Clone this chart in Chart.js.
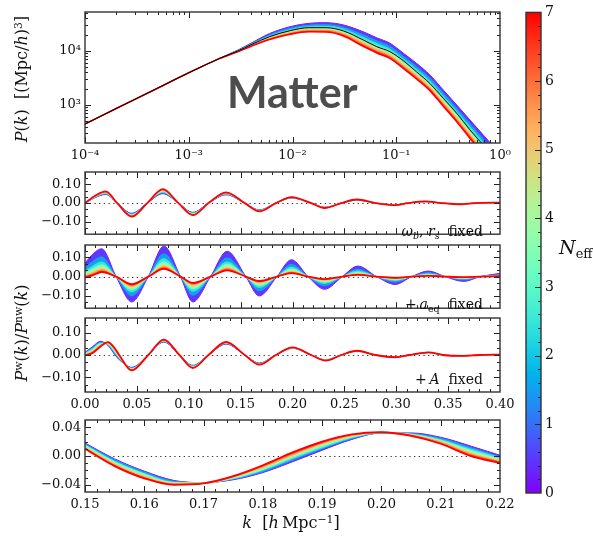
<!DOCTYPE html>
<html>
<head>
<meta charset="utf-8">
<script src="https://cdn.jsdelivr.net/npm/chart.js"></script>
<style>
    body { margin: 0; background: #fff; }
    #fig { position: relative; width: 593px; height: 537px; overflow: hidden; font-family: 'DejaVu Serif', serif; color: #111; }
    canvas { position: absolute; left: 0; }
    .lbl { position: absolute; white-space: nowrap; line-height: 1; z-index: 5; }
    .rot { transform: translate(-50%, -50%) rotate(-90deg); }
    .ctr { transform: translate(-50%, -50%); }
    sup { font-size: 68%; vertical-align: 0.55em; }
    sub { font-size: 68%; vertical-align: -0.3em; }
</style>
</head>
<body>
<div id="fig">
    <canvas id="powerChart" width="593" height="170" style="top:0px"></canvas>
    <canvas id="rsChart" width="593" height="86" style="top:160px"></canvas>
    <canvas id="aeqChart" width="593" height="87" style="top:233px"></canvas>
    <canvas id="ampChart" width="593" height="111" style="top:306px"></canvas>
    <canvas id="zoomChart" width="593" height="109" style="top:408px"></canvas>
    <canvas id="barChart" width="593" height="537" style="top:0px"></canvas>

    <div class="lbl rot" style="left:22px; top:79px; font-size:16px"><i>P</i>(<i>k</i>)&nbsp;&nbsp;[(Mpc/<i>h</i>)<sup>3</sup>]</div>
    <div class="lbl rot" style="left:22px; top:333px; font-size:16px"><i>P</i><sup>w</sup>(<i>k</i>)/<i>P</i><sup>nw</sup>(<i>k</i>)</div>
    <div class="lbl ctr" style="left:291px; top:523px; font-size:16px"><i>k</i>&nbsp;&nbsp;[<i>h</i>&thinsp;Mpc<sup>&minus;1</sup>]</div>
    <div class="lbl" style="left:559px; top:238px; font-size:19px"><i>N</i><sub style="font-style:normal">eff</sub></div>
    <div class="lbl" style="left:227px; top:70px; font-family:Lato, sans-serif; font-weight:700; font-size:43px; color:#4d4d4d">Matter</div>
    <div class="lbl" style="right:110px; top:224px; font-size:14px"><i>ω</i><sub><i>b</i></sub>, <i>r</i><sub><i>s</i></sub>&nbsp;&nbsp;fixed</div>
    <div class="lbl" style="right:110px; top:297px; font-size:14px">+&thinsp;<i>a</i><sub>eq</sub>&nbsp;&nbsp;fixed</div>
    <div class="lbl" style="right:110px; top:372px; font-size:14px">+&thinsp;<i>A</i>&nbsp;&nbsp;fixed</div>
</div>
<script>
    // N_eff values of the curves (colour scale 0..7)
    const neffValues = [0, 1, 2, 3, 4, 5, 6, 7];

    // Top panel: matter power spectrum P(k)
    const kPower = [1e-4, 2e-4, 5e-4, 0.001, 0.002, 0.003, 0.004, 0.006, 0.0095, 0.0145, 0.021, 0.031, 0.048, 0.065, 0.087, 0.117, 0.157, 0.211, 0.284, 0.383, 0.514, 0.7, 1.0];
    const powerNeff0 = [445, 860, 2050, 3950, 7400, 10500, 14000, 21000, 28200, 32600, 33400, 30300, 22700, 17500, 13900, 9100, 5900, 3600, 1900, 1000, 527, 270, 124];
    const powerNeff1 = [445, 860, 2050, 3950, 7380, 10350, 13640, 19950, 26400, 30300, 30900, 27600, 20000, 15400, 12200, 8000, 5160, 3150, 1660, 867, 451, 228, 103];
    const powerNeff2 = [445, 860, 2050, 3950, 7360, 10230, 13340, 19100, 25000, 28500, 28900, 25500, 18000, 13800, 10900, 7170, 4610, 2810, 1470, 768, 395, 197, 88];
    const powerNeff3 = [445, 860, 2050, 3950, 7340, 10120, 13090, 18400, 23800, 27000, 27200, 23800, 16400, 12500, 9940, 6510, 4170, 2540, 1330, 690, 351, 173, 77];
    const powerNeff4 = [445, 860, 2050, 3950, 7330, 10040, 12880, 17800, 22900, 25800, 25800, 22400, 15200, 11500, 9140, 5980, 3830, 2330, 1210, 629, 317, 155, 68];
    const powerNeff5 = [445, 860, 2050, 3950, 7320, 9950, 12670, 17300, 22000, 24700, 24600, 21200, 14100, 10650, 8460, 5540, 3530, 2150, 1120, 577, 289, 140, 61];
    const powerNeff6 = [445, 860, 2050, 3950, 7310, 9870, 12480, 16750, 21150, 23600, 23500, 20000, 13050, 9860, 7830, 5130, 3260, 1990, 1030, 530, 263, 126, 55];
    const powerNeff7 = [445, 860, 2050, 3950, 7300, 9800, 12300, 16300, 20400, 22700, 22500, 19000, 12200, 9200, 7300, 4780, 3030, 1850, 950, 490, 241, 115, 49];
    const powerFiducial = [445, 860, 2050, 3950, 7350, 10100, 13100, 18400, 23800, 27000, 27000, 23500, 16000, 12000, 9700, 6600, 4100, 2500, 1330, 700, 345, 175, 80];

    // Wiggle ratio, omega_b and r_s fixed
    const kRs = [0, 0.010, 0.020, 0.031, 0.045, 0.060, 0.075, 0.090, 0.104, 0.119, 0.136, 0.154, 0.168, 0.184, 0.199, 0.218, 0.231, 0.247, 0.262, 0.280, 0.299, 0.311, 0.328, 0.344, 0.361, 0.376, 0.400];
    const rsNeff0 = [0, 0.030, 0.046, 0, -0.054, 0, 0.050, 0, -0.049, 0, 0.044, 0, -0.036, 0, 0.027, 0, -0.022, 0, 0.016, 0, -0.009, 0, 0.008, 0, -0.005, 0, 0.003];
    const rsNeff1 = [0, 0.031, 0.048, 0, -0.057, 0, 0.053, 0, -0.051, 0, 0.046, 0, -0.037, 0, 0.028, 0, -0.023, 0, 0.016, 0, -0.009, 0, 0.008, 0, -0.005, 0, 0.003];
    const rsNeff2 = [0, 0.033, 0.051, 0, -0.059, 0, 0.057, 0, -0.053, 0, 0.048, 0, -0.038, 0, 0.028, 0, -0.023, 0, 0.017, 0, -0.010, 0, 0.008, 0, -0.005, 0, 0.003];
    const rsNeff3 = [0, 0.034, 0.053, 0, -0.062, 0, 0.060, 0, -0.055, 0, 0.050, 0, -0.039, 0, 0.029, 0, -0.024, 0, 0.017, 0, -0.010, 0, 0.008, 0, -0.005, 0, 0.003];
    const rsNeff4 = [0, 0.036, 0.055, 0, -0.064, 0, 0.064, 0, -0.058, 0, 0.051, 0, -0.041, 0, 0.030, 0, -0.024, 0, 0.018, 0, -0.010, 0, 0.009, 0, -0.006, 0, 0.003];
    const rsNeff5 = [0, 0.037, 0.057, 0, -0.067, 0, 0.067, 0, -0.060, 0, 0.053, 0, -0.042, 0, 0.031, 0, -0.025, 0, 0.018, 0, -0.010, 0, 0.009, 0, -0.006, 0, 0.003];
    const rsNeff6 = [0, 0.039, 0.060, 0, -0.069, 0, 0.071, 0, -0.062, 0, 0.055, 0, -0.043, 0, 0.031, 0, -0.025, 0, 0.019, 0, -0.011, 0, 0.009, 0, -0.006, 0, 0.003];
    const rsNeff7 = [0, 0.040, 0.062, 0, -0.072, 0, 0.074, 0, -0.064, 0, 0.057, 0, -0.044, 0, 0.032, 0, -0.026, 0, 0.019, 0, -0.011, 0, 0.009, 0, -0.006, 0, 0.003];

    // Wiggle ratio, + a_eq fixed
    const kAeq = [0, 0.008, 0.016, 0.030, 0.045, 0.061, 0.076, 0.092, 0.104, 0.121, 0.137, 0.155, 0.168, 0.185, 0.199, 0.215, 0.231, 0.248, 0.263, 0.281, 0.299, 0.315, 0.331, 0.347, 0.365, 0.381, 0.400];
    const aeqNeff0 = [0.070, 0.120, 0.145, 0, -0.132, 0, 0.159, 0, -0.132, 0, 0.132, 0, -0.101, 0, 0.088, 0, -0.066, 0, 0.055, 0, -0.041, 0, 0.029, 0, -0.025, 0, 0.017];
    const aeqNeff1 = [0.045, 0.082, 0.104, 0, -0.101, 0, 0.119, 0, -0.098, 0, 0.098, 0, -0.075, 0, 0.064, 0, -0.048, 0, 0.039, 0, -0.029, 0, 0.021, 0, -0.018, 0, 0.012];
    const aeqNeff2 = [0.029, 0.058, 0.078, 0, -0.081, 0, 0.094, 0, -0.078, 0, 0.078, 0, -0.058, 0, 0.050, 0, -0.037, 0, 0.030, 0, -0.022, 0, 0.015, 0, -0.013, 0, 0.009];
    const aeqNeff3 = [0.019, 0.043, 0.062, 0, -0.069, 0, 0.077, 0, -0.064, 0, 0.064, 0, -0.047, 0, 0.040, 0, -0.029, 0, 0.023, 0, -0.017, 0, 0.012, 0, -0.010, 0, 0.007];
    const aeqNeff4 = [0.012, 0.032, 0.049, 0, -0.059, 0, 0.065, 0, -0.054, 0, 0.054, 0, -0.039, 0, 0.033, 0, -0.024, 0, 0.019, 0, -0.013, 0, 0.009, 0, -0.008, 0, 0.005];
    const aeqNeff5 = [0.006, 0.023, 0.040, 0, -0.052, 0, 0.056, 0, -0.046, 0, 0.046, 0, -0.033, 0, 0.027, 0, -0.020, 0, 0.015, 0, -0.011, 0, 0.007, 0, -0.006, 0, 0.004];
    const aeqNeff6 = [0.000, 0.015, 0.031, 0, -0.046, 0, 0.047, 0, -0.039, 0, 0.039, 0, -0.028, 0, 0.022, 0, -0.016, 0, 0.012, 0, -0.008, 0, 0.006, 0, -0.004, 0, 0.003];
    const aeqNeff7 = [-0.004, 0.008, 0.024, 0, -0.040, 0, 0.040, 0, -0.033, 0, 0.033, 0, -0.023, 0, 0.018, 0, -0.013, 0, 0.009, 0, -0.006, 0, 0.004, 0, -0.003, 0, 0.002];

    // Wiggle ratio, + A fixed
    const kAmp = [0, 0.007, 0.015, 0.022, 0.029, 0.033, 0.045, 0.061, 0.076, 0.091, 0.104, 0.119, 0.136, 0.154, 0.168, 0.184, 0.200, 0.218, 0.232, 0.247, 0.262, 0.280, 0.299, 0.313, 0.331, 0.345, 0.365, 0.380, 0.400];
    const ampNeff0 = [0.012, 0.036, 0.061, 0.043, 0.000, -0.021, -0.055, 0, 0.058, 0, -0.046, 0, 0.049, 0, -0.036, 0, 0.030, 0, -0.022, 0, 0.017, 0, -0.009, 0, 0.011, 0, -0.004, 0, 0.002];
    const ampNeff1 = [0.010, 0.032, 0.058, 0.045, 0.004, -0.018, -0.057, 0, 0.060, 0, -0.048, 0, 0.050, 0, -0.037, 0, 0.031, 0, -0.022, 0, 0.017, 0, -0.009, 0, 0.011, 0, -0.004, 0, 0.002];
    const ampNeff2 = [0.008, 0.028, 0.054, 0.047, 0.008, -0.015, -0.059, 0, 0.061, 0, -0.049, 0, 0.052, 0, -0.038, 0, 0.031, 0, -0.023, 0, 0.018, 0, -0.009, 0, 0.011, 0, -0.004, 0, 0.002];
    const ampNeff3 = [0.006, 0.024, 0.051, 0.049, 0.012, -0.012, -0.061, 0, 0.063, 0, -0.051, 0, 0.053, 0, -0.039, 0, 0.032, 0, -0.023, 0, 0.018, 0, -0.009, 0, 0.011, 0, -0.004, 0, 0.002];
    const ampNeff4 = [0.004, 0.020, 0.048, 0.051, 0.016, -0.009, -0.063, 0, 0.064, 0, -0.053, 0, 0.054, 0, -0.040, 0, 0.032, 0, -0.024, 0, 0.018, 0, -0.010, 0, 0.012, 0, -0.004, 0, 0.002];
    const ampNeff5 = [0.002, 0.016, 0.045, 0.053, 0.020, -0.006, -0.065, 0, 0.066, 0, -0.055, 0, 0.055, 0, -0.041, 0, 0.033, 0, -0.024, 0, 0.018, 0, -0.010, 0, 0.012, 0, -0.004, 0, 0.002];
    const ampNeff6 = [0.000, 0.012, 0.041, 0.055, 0.024, -0.003, -0.067, 0, 0.067, 0, -0.056, 0, 0.057, 0, -0.042, 0, 0.033, 0, -0.025, 0, 0.019, 0, -0.010, 0, 0.012, 0, -0.004, 0, 0.002];
    const ampNeff7 = [-0.002, 0.008, 0.038, 0.057, 0.028, 0.000, -0.069, 0, 0.069, 0, -0.058, 0, 0.058, 0, -0.043, 0, 0.034, 0, -0.025, 0, 0.019, 0, -0.010, 0, 0.012, 0, -0.004, 0, 0.002];

    // Zoom on 0.15 < k < 0.22
    const kZoom = [0.150, 0.155, 0.160, 0.165, 0.170, 0.175, 0.180, 0.185, 0.190, 0.195, 0.200, 0.205, 0.210, 0.215, 0.220];
    const zoomNeff0 = [0.018, -0.004, -0.021, -0.034, -0.037, -0.033, -0.023, -0.008, 0.008, 0.023, 0.032, 0.032, 0.026, 0.014, 0.001];
    const zoomNeff1 = [0.017, -0.005, -0.022, -0.035, -0.037, -0.032, -0.022, -0.006, 0.010, 0.024, 0.032, 0.031, 0.025, 0.012, -0.001];
    const zoomNeff2 = [0.016, -0.007, -0.024, -0.036, -0.037, -0.032, -0.020, -0.004, 0.011, 0.025, 0.032, 0.031, 0.023, 0.010, -0.002];
    const zoomNeff3 = [0.015, -0.008, -0.025, -0.037, -0.037, -0.031, -0.019, -0.002, 0.013, 0.026, 0.032, 0.030, 0.022, 0.008, -0.004];
    const zoomNeff4 = [0.013, -0.010, -0.027, -0.037, -0.038, -0.030, -0.017, -0.001, 0.015, 0.027, 0.033, 0.030, 0.021, 0.006, -0.005];
    const zoomNeff5 = [0.012, -0.011, -0.028, -0.038, -0.038, -0.029, -0.016, 0.001, 0.017, 0.028, 0.033, 0.029, 0.020, 0.004, -0.007];
    const zoomNeff6 = [0.011, -0.013, -0.030, -0.039, -0.038, -0.029, -0.014, 0.003, 0.018, 0.029, 0.033, 0.029, 0.018, 0.002, -0.008];
    const zoomNeff7 = [0.010, -0.014, -0.031, -0.040, -0.038, -0.028, -0.013, 0.005, 0.020, 0.030, 0.033, 0.028, 0.017, 0.000, -0.010];

    // Tick labels
    const powerXTicks = [1e-4, 1e-3, 1e-2, 1e-1, 1];
    const powerYTicks = [1e3, 1e4];
    const wigXTicks = [0, 0.05, 0.10, 0.15, 0.20, 0.25, 0.30, 0.35, 0.40];
    const wigYTicks = [-0.10, 0, 0.10];
    const zoomXTicks = [0.15, 0.16, 0.17, 0.18, 0.19, 0.20, 0.21, 0.22];
    const zoomYTicks = [-0.04, 0, 0.04];
    const barTicks = [0, 1, 2, 3, 4, 5, 6, 7];

    const NEFF_MAX = 7;
    const SERIF = "'DejaVu Serif', serif";
    const tickFont = { family: SERIF, size: 13 };

    // matplotlib 'rainbow' colormap
    function rainbow(t) {
        const r = Math.min(1, Math.abs(2 * t - 0.5));
        const g = Math.max(0, Math.sin(Math.PI * t));
        const b = Math.max(0, Math.cos(Math.PI * t / 2));
        return 'rgb(' + Math.round(255 * r) + ',' + Math.round(255 * g) + ',' + Math.round(255 * b) + ')';
    }

    function steps(a, b, s) {
        const out = [];
        const n = Math.round((b - a) / s);
        for (let i = 0; i <= n; i++) out.push(+(a + i * s).toFixed(6));
        return out;
    }

    function logMinor(lo, hi) {
        const out = [];
        for (let e = Math.floor(Math.log10(lo)); e <= Math.ceil(Math.log10(hi)); e++) {
            for (let m = 2; m <= 9; m++) {
                const v = m * Math.pow(10, e);
                if (v > lo && v < hi) out.push(v);
            }
        }
        return out;
    }

    const supChars = { '-': '\u207B', '0': '\u2070', '1': '\u00B9', '2': '\u00B2', '3': '\u00B3', '4': '\u2074' };
    function pow10Label(v) {
        const e = Math.round(Math.log10(v));
        return '10' + String(e).split('').map(c => supChars[c]).join('');
    }
    function fixed2(v) {
        return (v < -1e-9 ? '\u2212' : '') + Math.abs(v).toFixed(2);
    }

    // inward ticks on all sides, frame, dotted zero line
    const frameTicks = {
        id: 'frameTicks',
        beforeDatasetsDraw(chart, args, opts) {
            if (!opts.zero) return;
            const { ctx, chartArea: a, scales: { y } } = chart;
            const py = Math.round(y.getPixelForValue(0)) + 0.5;
            ctx.save();
            ctx.strokeStyle = '#333';
            ctx.lineWidth = 1.2;
            ctx.setLineDash([1.3, 3.4]);
            ctx.beginPath();
            ctx.moveTo(a.left, py);
            ctx.lineTo(a.right, py);
            ctx.stroke();
            ctx.restore();
        },
        afterDatasetsDraw(chart, args, opts) {
            const { ctx, chartArea: a, scales: { x, y } } = chart;
            ctx.save();
            ctx.strokeStyle = '#222';
            ctx.lineWidth = 1;
            const xSides = opts.xSides || ['top', 'bottom'];
            const ySides = opts.ySides || ['left', 'right'];
            function xt(list, len) {
                (list || []).forEach(v => {
                    const px = Math.round(x.getPixelForValue(v)) + 0.5;
                    if (px < a.left || px > a.right) return;
                    ctx.beginPath();
                    if (xSides.includes('bottom')) { ctx.moveTo(px, a.bottom); ctx.lineTo(px, a.bottom - len); }
                    if (xSides.includes('top')) { ctx.moveTo(px, a.top); ctx.lineTo(px, a.top + len); }
                    ctx.stroke();
                });
            }
            function yt(list, len) {
                (list || []).forEach(v => {
                    const py = Math.round(y.getPixelForValue(v)) + 0.5;
                    if (py < a.top || py > a.bottom) return;
                    ctx.beginPath();
                    if (ySides.includes('left')) { ctx.moveTo(a.left, py); ctx.lineTo(a.left + len, py); }
                    if (ySides.includes('right')) { ctx.moveTo(a.right, py); ctx.lineTo(a.right - len, py); }
                    ctx.stroke();
                });
            }
            if (x) { xt(opts.xMajor, 6); xt(opts.xMinor, 3); }
            yt(opts.yMajor, 6);
            yt(opts.yMinor, 3);
            ctx.lineWidth = 1.4;
            ctx.strokeStyle = '#333';
            ctx.strokeRect(a.left, a.top, a.right - a.left, a.bottom - a.top);
            ctx.restore();
        }
    };

    // colour bar fill
    const colorBar = {
        id: 'colorBar',
        beforeDatasetsDraw(chart) {
            const { ctx, chartArea: a, scales: { y } } = chart;
            const grad = ctx.createLinearGradient(0, y.getPixelForValue(0), 0, y.getPixelForValue(NEFF_MAX));
            for (let i = 0; i <= 28; i++) grad.addColorStop(i / 28, rainbow(i / 28));
            ctx.save();
            ctx.fillStyle = grad;
            ctx.fillRect(a.left, a.top, a.right - a.left, a.bottom - a.top);
            ctx.restore();
        }
    };

    // one dataset per N_eff, each filled down to the previous one
    function bandDatasets(ks, rows, redWidth) {
        const sets = [];
        for (let i = rows.length - 1; i >= 0; i--) {
            const t = neffValues[i] / NEFF_MAX;
            sets.push({
                data: ks.map((k, j) => ({ x: k, y: rows[i][j] })),
                borderColor: rainbow(t),
                borderWidth: i === rows.length - 1 ? redWidth : 1,
                backgroundColor: rainbow((neffValues[i] - 0.5) / NEFF_MAX),
                fill: i > 0 ? '+1' : false,
                pointRadius: 0,
                cubicInterpolationMode: 'monotone'
            });
        }
        return sets;
    }

    function axis(type, min, max, size, tickVals, showLabels, fmt, isY, pad) {
        return {
            type: type,
            min: min,
            max: max,
            afterFit: s => { if (isY) s.width = size; else s.height = size; },
            afterBuildTicks: s => { s.ticks = tickVals.map(v => ({ value: v })); },
            ticks: {
                display: showLabels,
                font: tickFont,
                color: '#111',
                padding: pad,
                autoSkip: false,
                maxRotation: 0,
                callback: v => fmt(v)
            },
            grid: { display: false, drawTicks: false },
            border: { display: false }
        };
    }

    function baseOptions(top, xAxis, yAxis, ticksOpts) {
        return {
            responsive: false,
            animation: false,
            events: [],
            layout: { padding: { top: top, right: 93, left: 0, bottom: 0 } },
            scales: { x: xAxis, y: yAxis },
            plugins: {
                legend: { display: false },
                tooltip: { enabled: false },
                frameTicks: ticksOpts
            }
        };
    }

    // Top panel
    const powerSets = bandDatasets(kPower,
        [powerNeff0, powerNeff1, powerNeff2, powerNeff3, powerNeff4, powerNeff5, powerNeff6, powerNeff7], 1.6);
    powerSets.unshift({
        data: kPower.map((k, j) => ({ x: k, y: powerFiducial[j] })),
        borderColor: '#000',
        borderWidth: 1,
        fill: false,
        pointRadius: 0,
        cubicInterpolationMode: 'monotone'
    });
    new Chart(document.getElementById('powerChart'), {
        type: 'line',
        data: { datasets: powerSets },
        options: baseOptions(12,
            axis('logarithmic', 1e-4, 1, 27, powerXTicks, true, pow10Label, false, 5),
            axis('logarithmic', 198, 52700, 85, powerYTicks, true, pow10Label, true, 4),
            { xMajor: powerXTicks, xMinor: logMinor(1e-4, 1), yMajor: powerYTicks, yMinor: logMinor(198, 52700) }),
        plugins: [frameTicks]
    });

    // Wiggle panels
    const wigYMinor = [-4, -3, -2, -1, 1, 2, 3, 4].map(i => i * 0.1 / 3);
    function wigglePanel(id, ks, rows, showX, xSize) {
        new Chart(document.getElementById(id), {
            type: 'line',
            data: { datasets: bandDatasets(ks, rows, 1.8) },
            options: baseOptions(12,
                axis('linear', 0, 0.4, xSize, wigXTicks, showX, fixed2, false, 5),
                axis('linear', -0.165, 0.165, 85, wigYTicks, true, fixed2, true, 4),
                { zero: true, xMajor: wigXTicks, xMinor: steps(0, 0.4, 0.01), yMajor: wigYTicks, yMinor: wigYMinor }),
            plugins: [frameTicks]
        });
    }
    wigglePanel('rsChart', kRs, [rsNeff0, rsNeff1, rsNeff2, rsNeff3, rsNeff4, rsNeff5, rsNeff6, rsNeff7], false, 2);
    wigglePanel('aeqChart', kAeq, [aeqNeff0, aeqNeff1, aeqNeff2, aeqNeff3, aeqNeff4, aeqNeff5, aeqNeff6, aeqNeff7], false, 0);
    wigglePanel('ampChart', kAmp, [ampNeff0, ampNeff1, ampNeff2, ampNeff3, ampNeff4, ampNeff5, ampNeff6, ampNeff7], true, 25);

    // Zoom panel
    new Chart(document.getElementById('zoomChart'), {
        type: 'line',
        data: { datasets: bandDatasets(kZoom, [zoomNeff0, zoomNeff1, zoomNeff2, zoomNeff3, zoomNeff4, zoomNeff5, zoomNeff6, zoomNeff7], 1.8) },
        options: baseOptions(12,
            axis('linear', 0.15, 0.22, 25, zoomXTicks, true, fixed2, false, 5),
            axis('linear', -0.05, 0.05, 85, zoomYTicks, true, fixed2, true, 4),
            { zero: true, xMajor: zoomXTicks, xMinor: steps(0.15, 0.22, 0.002), yMajor: zoomYTicks, yMinor: steps(-0.04, 0.04, 0.01) }),
        plugins: [frameTicks]
    });

    // Colour bar
    new Chart(document.getElementById('barChart'), {
        type: 'scatter',
        data: { datasets: [] },
        options: {
            responsive: false,
            animation: false,
            events: [],
            layout: { padding: { top: 11, left: 526, right: 0, bottom: 44 } },
            scales: {
                x: { display: false, min: 0, max: 1 },
                y: Object.assign(axis('linear', 0, NEFF_MAX, 52, barTicks, true, v => String(v), true, 4), {
                    position: 'right',
                    ticks: { font: { family: SERIF, size: 14 }, color: '#111', padding: 4, autoSkip: false, callback: v => String(v) }
                })
            },
            plugins: {
                legend: { display: false },
                tooltip: { enabled: false },
                frameTicks: { ySides: ['right'], yMajor: barTicks, yMinor: steps(0, 7, 0.2) }
            }
        },
        plugins: [colorBar, frameTicks]
    });
</script>
</body>
</html>
